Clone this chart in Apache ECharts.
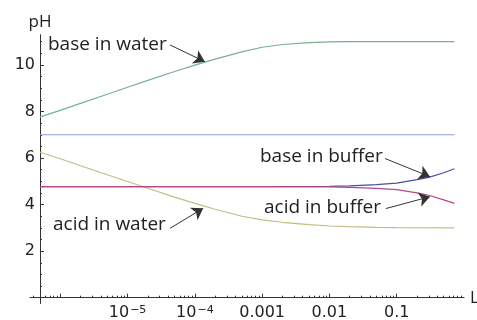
<!DOCTYPE html>
<html><head><meta charset="utf-8">
<script src="https://cdn.jsdelivr.net/npm/echarts@6/dist/echarts.min.js"></script>
<style>html,body{margin:0;padding:0;background:#fff}#c{width:477px;height:320px}</style>
</head><body><div id="c"></div>
<script>
// ---- data ----
const L_water = [5e-7, 1e-6, 2e-6, 5e-6, 1e-5, 2e-5, 5e-5, 1e-4, 2e-4, 5e-4, 1e-3, 2e-3, 5e-3, 1e-2, 2e-2, 5e-2, 0.1, 0.72];
const pH_base_water = [7.77, 8.05, 8.35, 8.74, 9.04, 9.34, 9.72, 9.99, 10.25, 10.56, 10.76, 10.88, 10.96, 10.99, 11.0, 11.0, 11.0, 11.0];
const pH_acid_water = [6.25, 5.97, 5.67, 5.28, 4.99, 4.70, 4.32, 4.05, 3.80, 3.50, 3.34, 3.24, 3.14, 3.08, 3.05, 3.02, 3.01, 3.00];
const L_neutral = [5e-7, 0.72];
const pH_neutral = [7, 7];
const L_buffer = [5e-7, 1e-3, 0.01, 0.02, 0.05, 0.1, 0.2, 0.3, 0.5, 0.72];
const pH_base_buffer = [4.77, 4.77, 4.78, 4.80, 4.86, 4.92, 5.07, 5.17, 5.37, 5.54];
const pH_acid_buffer = [4.77, 4.77, 4.76, 4.74, 4.70, 4.64, 4.50, 4.40, 4.20, 4.05];

const xMajorTicks = [1e-6, 1e-5, 1e-4, 1e-3, 1e-2, 1e-1];
const xLabelValues = [1e-5, 1e-4, 1e-3, 1e-2, 1e-1];
const xLabelBase = ['10', '10', '0.001', '0.01', '0.1'];
const xLabelSup = ['−5', '−4', '', '', ''];
const yLabelValues = [2, 4, 6, 8, 10];
const yMinorTicks = [0.5, 1, 1.5, 2.5, 3, 3.5, 4.5, 5, 5.5, 6.5, 7, 7.5, 8.5, 9, 9.5, 10.5, 11];

// annotation arrows: [tail, tip] in data coords
const arrowBaseWater = [[4.27e-5, 10.86], [1.41e-4, 10.14]];
const arrowBaseBuffer = [[0.0668, 5.98], [0.312, 5.20]];
const arrowAcidBuffer = [[0.069, 3.83], [0.312, 4.34]];
const arrowAcidWater = [[4.27e-5, 2.98], [1.33e-4, 3.84]];

const xMinorTicks = [];
for (let e = -7; e <= -1; e++) for (let m = 2; m <= 9; m++) {
  const v = m * Math.pow(10, e);
  if (v > 3.6e-7 && v < 1) xMinorTicks.push(v);
}

const zip = (xs, ys) => xs.map((x, i) => [x, ys[i]]);
const XMIN = 3.55e-7, XMAX = 1;
const axisColor = '#333';
const tickFont = 'DejaVu Sans';
const textFont = 'Open Sans';

function arrow(a) {
  return {
    silent: true, animation: false,
    symbol: ['none', 'arrow'], symbolSize: 11,
    lineStyle: { color: '#333', width: 1, type: 'solid' },
    label: { show: false },
    emphasis: { disabled: true },
    data: [[{ coord: a[0] }, { coord: a[1] }]]
  };
}

function lineSeries(data, color, mk) {
  const s = {
    type: 'line', data, showSymbol: false, symbol: 'none',
    smooth: false,
    lineStyle: { color, width: 1.2 }, itemStyle: { color },
    xAxisIndex: 0, yAxisIndex: 0, animation: false, silent: true
  };
  if (mk) s.markLine = arrow(mk);
  return s;
}

const chart = echarts.init(document.getElementById('c'));
chart.setOption({
  animation: false,
  grid: { left: 30, right: 13, top: 34.7, bottom: 16.5, containLabel: false, outerBoundsMode: 'none' },
  xAxis: [{
    type: 'log', logBase: 10, min: XMIN, max: XMAX, position: 'bottom',
    name: 'L', nameLocation: 'end', nameGap: 6,
    nameTextStyle: { fontFamily: textFont, fontSize: 17, color: '#222', verticalAlign: 'middle' },
    axisLine: { onZero: true, onZeroAxisIndex: 0, lineStyle: { color: axisColor, width: 1 } },
    axisTick: { show: true, inside: true, length: 4, customValues: xMajorTicks, lineStyle: { color: axisColor } },
    minorTick: { show: false },
    splitLine: { show: false },
    axisLabel: {
      customValues: xLabelValues, margin: 1, color: '#222',
      formatter: v => {
        const i = xLabelValues.findIndex(t => Math.abs(Math.log10(t) - Math.log10(v)) < 1e-6);
        if (i < 0) return '';
        return '{a|' + xLabelBase[i] + '}' + (xLabelSup[i] ? '{b|' + xLabelSup[i] + '}' : '');
      },
      rich: {
        a: { fontFamily: tickFont, fontSize: 16, color: '#222', lineHeight: 16 },
        b: { fontFamily: tickFont, fontSize: 11, color: '#222', lineHeight: 8, verticalAlign: 'top', padding: [0, 0, 0, 1] }
      }
    }
  }, {
    type: 'log', logBase: 10, min: XMIN, max: XMAX, position: 'bottom',
    axisLine: { show: false, onZero: true, onZeroAxisIndex: 0 },
    axisTick: { show: true, inside: true, length: 2, customValues: xMinorTicks, lineStyle: { color: axisColor } },
    axisLabel: { show: false }, splitLine: { show: false }
  }],
  yAxis: [{
    type: 'value', min: -0.25, max: 11.3, position: 'left', offset: -10,
    name: 'pH', nameLocation: 'end', nameGap: 4,
    nameTextStyle: { fontFamily: textFont, fontSize: 17, color: '#222' },
    axisLine: { show: true, onZero: false, lineStyle: { color: axisColor, width: 1 } },
    axisTick: { show: true, inside: true, length: 4, customValues: yLabelValues, lineStyle: { color: axisColor } },
    splitLine: { show: false },
    axisLabel: { customValues: yLabelValues, margin: 5, fontFamily: tickFont, fontSize: 16, color: '#222' }
  }, {
    type: 'value', min: -0.25, max: 11.3, position: 'left', offset: -10,
    axisLine: { show: false, onZero: false },
    axisTick: { show: true, inside: true, length: 2, customValues: yMinorTicks, lineStyle: { color: axisColor } },
    axisLabel: { show: false }, splitLine: { show: false }
  }],
  series: [
    lineSeries(zip(L_neutral, pH_neutral), '#8d9fd6'),
    lineSeries(zip(L_water, pH_base_water), '#79b08f', arrowBaseWater),
    lineSeries(zip(L_water, pH_acid_water), '#c3bc84', arrowAcidWater),
    lineSeries(zip(L_buffer, pH_base_buffer), '#4a4ca6', arrowBaseBuffer),
    lineSeries(zip(L_buffer, pH_acid_buffer), '#b24a86', arrowAcidBuffer)
  ],
  graphic: [
    { type: 'text', x: 48, y: 44.5, silent: true, style: { text: 'base in water', fontFamily: textFont, fontSize: 19, fill: '#222', verticalAlign: 'middle' } },
    { type: 'text', x: 260, y: 157, silent: true, style: { text: 'base in buffer', fontFamily: textFont, fontSize: 19, fill: '#222', verticalAlign: 'middle' } },
    { type: 'text', x: 264, y: 207.5, silent: true, style: { text: 'acid in buffer', fontFamily: textFont, fontSize: 19, fill: '#222', verticalAlign: 'middle' } },
    { type: 'text', x: 53, y: 224.5, silent: true, style: { text: 'acid in water', fontFamily: textFont, fontSize: 19, fill: '#222', verticalAlign: 'middle' } }
  ]
});
</script></body></html>
